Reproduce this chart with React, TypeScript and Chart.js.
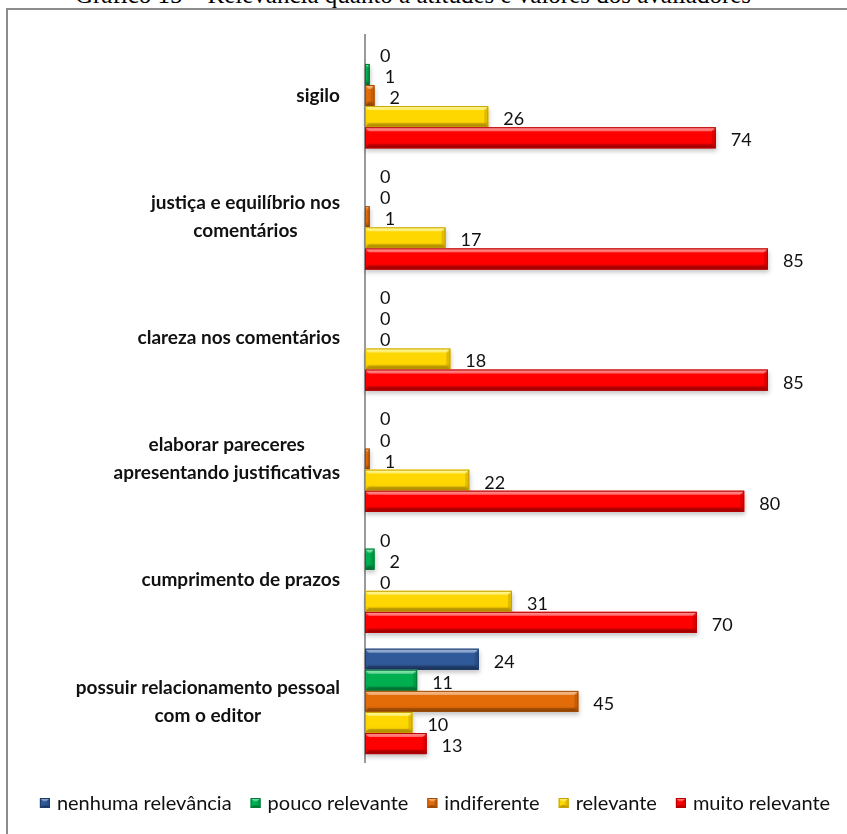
import React, { useEffect, useRef } from 'react';
import { Chart, registerables } from 'chart.js';
Chart.register(...registerables);

const TITLE = 'Gráfico 15 – Relevância quanto a atitudes e valores dos avaliadores';

const categories: string[][] = [
  ['sigilo'],
  ['justiça e equilíbrio nos', 'comentários'],
  ['clareza nos comentários'],
  ['elaborar pareceres', 'apresentando justificativas'],
  ['cumprimento de prazos'],
  ['possuir relacionamento pessoal', 'com o editor'],
];

const seriesNames = ['nenhuma relevância', 'pouco relevante', 'indiferente', 'relevante', 'muito relevante'];

const nenhumaRelevancia = [0, 0, 0, 0, 0, 24];
const poucoRelevante = [1, 0, 0, 0, 2, 11];
const indiferente = [2, 1, 0, 1, 0, 45];
const relevante = [26, 17, 18, 22, 31, 10];
const muitoRelevante = [74, 85, 85, 80, 70, 13];

const seriesValues = [nenhumaRelevancia, poucoRelevante, indiferente, relevante, muitoRelevante];

const baseColors = ['#30599A', '#00B050', '#E36C09', '#FFD700', '#FF0000'];
const lightColors = ['#7097D2', '#5EE196', '#F8A65A', '#FFFF70', '#FF6A6A'];
const darkColors = ['#1E3A66', '#007A36', '#A04C05', '#C9A000', '#B80000'];

const FONT = 'Lato, "Open Sans", "DejaVu Sans", sans-serif';
const CAT_FONT_SIZE = 19;
const DATA_FONT_SIZE = 18;
const LEGEND_FONT_SIZE = 20;
const CAT_RIGHT = 340;
const LEGEND_CENTER_X = 435;
const LEGEND_Y = 803;

function drawBevelRect(ctx: CanvasRenderingContext2D, left: number, top: number, w: number, h: number, i: number) {
  if (w < 0.5 || h < 0.5) return;
  const bot = top + h;
  const right = left + w;
  const g = ctx.createLinearGradient(0, top, 0, bot);
  g.addColorStop(0, lightColors[i]);
  g.addColorStop(0.22, baseColors[i]);
  g.addColorStop(0.72, baseColors[i]);
  g.addColorStop(1, darkColors[i]);
  ctx.fillStyle = g;
  ctx.fillRect(left, top, w, h);
  const b = Math.min(4, w / 2, h / 3);
  ctx.fillStyle = 'rgba(255,255,255,0.35)';
  ctx.beginPath();
  ctx.moveTo(left, top);
  ctx.lineTo(right, top);
  ctx.lineTo(right - b, top + b);
  ctx.lineTo(left + b, top + b);
  ctx.closePath();
  ctx.fill();
  ctx.fillStyle = 'rgba(0,0,0,0.18)';
  ctx.beginPath();
  ctx.moveTo(left, bot);
  ctx.lineTo(right, bot);
  ctx.lineTo(right - b, bot - b);
  ctx.lineTo(left + b, bot - b);
  ctx.closePath();
  ctx.fill();
  ctx.fillStyle = 'rgba(0,0,0,0.12)';
  ctx.beginPath();
  ctx.moveTo(right, top);
  ctx.lineTo(right, bot);
  ctx.lineTo(right - b, bot - b);
  ctx.lineTo(right - b, top + b);
  ctx.closePath();
  ctx.fill();
  ctx.strokeStyle = darkColors[i];
  ctx.lineWidth = 1;
  ctx.strokeRect(left + 0.5, top + 0.5, Math.max(w - 1, 0), h - 1);
}

const bevelPlugin = {
  id: 'bevelBars',
  beforeDatasetsDraw(chart: any) {
    const ctx = chart.ctx as CanvasRenderingContext2D;
    ctx.save();
    ctx.filter = 'blur(2px)';
    ctx.fillStyle = 'rgba(0,0,0,0.22)';
    chart.data.datasets.forEach((_: any, di: number) => {
      const meta = chart.getDatasetMeta(di);
      meta.data.forEach((bar: any) => {
        const p = bar.getProps(['x', 'y', 'base', 'height'], true);
        const w = p.x - p.base;
        if (w < 0.5) return;
        ctx.fillRect(p.base, p.y - p.height / 2 + 3, w + 1, p.height);
      });
    });
    ctx.restore();
  },
  afterDatasetsDraw(chart: any) {
    const ctx = chart.ctx as CanvasRenderingContext2D;
    ctx.save();
    chart.data.datasets.forEach((_: any, di: number) => {
      const meta = chart.getDatasetMeta(di);
      meta.data.forEach((bar: any) => {
        const p = bar.getProps(['x', 'y', 'base', 'height'], true);
        drawBevelRect(ctx, p.base, p.y - p.height / 2, p.x - p.base, p.height, di);
      });
    });
    ctx.restore();
  },
  afterDraw(chart: any) {
    const ctx = chart.ctx as CanvasRenderingContext2D;
    ctx.save();
    ctx.font = `${DATA_FONT_SIZE}px ${FONT}`;
    ctx.fillStyle = '#111';
    ctx.textAlign = 'left';
    ctx.textBaseline = 'alphabetic';
    chart.data.datasets.forEach((ds: any, di: number) => {
      const meta = chart.getDatasetMeta(di);
      meta.data.forEach((bar: any, idx: number) => {
        const p = bar.getProps(['x', 'y'], true);
        ctx.fillText(String(ds.data[idx]), p.x + 15, p.y + 8.5);
      });
    });
    const yScale = chart.scales.y;
    ctx.font = `bold ${CAT_FONT_SIZE}px ${FONT}`;
    ctx.textAlign = 'center';
    ctx.textBaseline = 'middle';
    categories.forEach((lines, i) => {
      const cy = yScale.getPixelForValue(i);
      const bw = Math.max(...lines.map((l) => ctx.measureText(l).width));
      const cx = CAT_RIGHT - bw / 2;
      const lh = 28;
      const y0 = cy - ((lines.length - 1) * lh) / 2;
      lines.forEach((l, j) => ctx.fillText(l, cx, y0 + j * lh));
    });
    ctx.font = `${LEGEND_FONT_SIZE}px ${FONT}`;
    ctx.textAlign = 'left';
    const box = 10;
    const gapBoxText = 7;
    const gapItem = 19;
    const widths = seriesNames.map((n) => ctx.measureText(n).width);
    const total = widths.reduce((a, w) => a + box + gapBoxText + w, 0) + gapItem * (seriesNames.length - 1);
    let x = LEGEND_CENTER_X - total / 2;
    seriesNames.forEach((n, i) => {
      drawBevelRect(ctx, x, LEGEND_Y - box / 2, box, box, i);
      ctx.fillStyle = '#111';
      ctx.textBaseline = 'middle';
      ctx.fillText(n, x + box + gapBoxText, LEGEND_Y + 1);
      x += box + gapBoxText + widths[i] + gapItem;
    });
    ctx.restore();
  },
};

export default function App() {
  const ref = useRef<HTMLCanvasElement | null>(null);
  useEffect(() => {
    if (!ref.current) return;
    const chart = new Chart(ref.current, {
      type: 'bar',
      data: {
        labels: categories.map((c) => c.join(' ')),
        datasets: seriesNames.map((name, i) => ({
          label: name,
          data: seriesValues[i],
          backgroundColor: baseColors[i],
          borderWidth: 0,
          categoryPercentage: 0.87,
          barPercentage: 1.0,
        })),
      },
      options: {
        indexAxis: 'y',
        animation: false,
        responsive: false,
        devicePixelRatio: 1,
        layout: { padding: { left: 365, right: 8, top: 35, bottom: 72 } },
        plugins: { legend: { display: false }, tooltip: { enabled: false }, title: { display: false } },
        scales: {
          x: { display: false, min: 0, max: 100 },
          y: {
            display: true,
            ticks: { display: false },
            grid: { display: false },
            border: { display: true, color: '#9a9a9a', width: 2 },
            afterFit: (s: any) => { s.width = 0; },
          },
        },
      },
      plugins: [bevelPlugin],
    });
    return () => chart.destroy();
  }, []);

  return (
    <div style={{ position: 'fixed', left: 0, top: 0, width: 847, height: 834, overflow: 'hidden', background: '#fff' }}>
      <div
        style={{
          position: 'absolute', left: 0, top: -18, width: 826, textAlign: 'center',
          fontFamily: '"Liberation Serif", "Times New Roman", serif', fontSize: 25, lineHeight: '25px', whiteSpace: 'nowrap', color: '#000',
        }}
      >
        {TITLE}
      </div>
      <div style={{ position: 'absolute', left: 6, top: 8, width: 900, height: 900, border: '2px solid #8c8c8c', boxSizing: 'border-box' }} />
      <canvas ref={ref} width={847} height={834} style={{ position: 'absolute', left: 0, top: 0, width: 847, height: 834 }} />
    </div>
  );
}
